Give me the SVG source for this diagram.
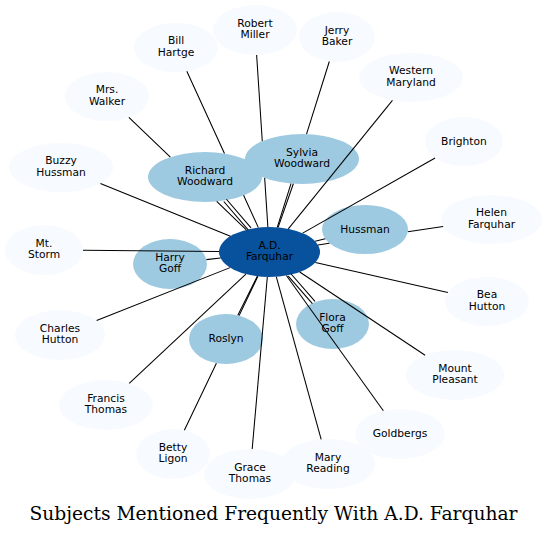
<svg xmlns="http://www.w3.org/2000/svg" width="547" height="535" viewBox="0 0 547 535">
<style>
.lt{fill:#f7fbff}
.md{fill:#9ecae1}
.dk{fill:#08519c}
text{font-family:"DejaVu Sans","Liberation Sans",sans-serif;font-size:10.7px;fill:#000;text-anchor:middle}
.e{stroke:#000;stroke-width:1.05;fill:none}
.title{font-family:"DejaVu Serif","Liberation Serif",serif;font-size:18px}
</style>
<rect width="547" height="535" fill="#fff"/>
<g id="nodes">
<g id="n-bill-hartge"><ellipse class="lt" cx="176" cy="47.5" rx="42" ry="24.5"/><text x="176" y="44.2">Bill</text><text x="176" y="55.9">Hartge</text></g>
<g id="n-robert-miller"><ellipse class="lt" cx="255" cy="30" rx="42" ry="25"/><text x="255" y="26.7">Robert</text><text x="255" y="38.4">Miller</text></g>
<g id="n-jerry-baker"><ellipse class="lt" cx="337" cy="37" rx="38" ry="25"/><text x="337" y="33.7">Jerry</text><text x="337" y="45.4">Baker</text></g>
<g id="n-western-maryland"><ellipse class="lt" cx="411" cy="77.5" rx="52" ry="24.5"/><text x="411" y="74.2">Western</text><text x="411" y="85.9">Maryland</text></g>
<g id="n-brighton"><ellipse class="lt" cx="464" cy="141.5" rx="39" ry="24.5"/><text x="464" y="144.5">Brighton</text></g>
<g id="n-helen-farquhar"><ellipse class="lt" cx="491.5" cy="219.5" rx="50.5" ry="24.5"/><text x="491.5" y="216.2">Helen</text><text x="491.5" y="227.9">Farquhar</text></g>
<g id="n-bea-hutton"><ellipse class="lt" cx="487" cy="301.5" rx="42" ry="24.5"/><text x="487" y="298.2">Bea</text><text x="487" y="309.9">Hutton</text></g>
<g id="n-mount-pleasant"><ellipse class="lt" cx="455" cy="375" rx="49" ry="25"/><text x="455" y="371.7">Mount</text><text x="455" y="383.4">Pleasant</text></g>
<g id="n-goldbergs"><ellipse class="lt" cx="400" cy="434" rx="45" ry="25"/><text x="400" y="437">Goldbergs</text></g>
<g id="n-grace-thomas"><ellipse class="lt" cx="250" cy="474" rx="46" ry="25"/><text x="250" y="470.7">Grace</text><text x="250" y="482.4">Thomas</text></g>
<g id="n-mary-reading"><ellipse class="lt" cx="328" cy="464" rx="47" ry="25"/><text x="328" y="460.7">Mary</text><text x="328" y="472.4">Reading</text></g>
<g id="n-betty-ligon"><ellipse class="lt" cx="173" cy="454" rx="37" ry="25"/><text x="173" y="450.7">Betty</text><text x="173" y="462.4">Ligon</text></g>
<g id="n-francis-thomas"><ellipse class="lt" cx="106" cy="405" rx="47" ry="25"/><text x="106" y="401.7">Francis</text><text x="106" y="413.4">Thomas</text></g>
<g id="n-charles-hutton"><ellipse class="lt" cx="60" cy="335" rx="45" ry="25"/><text x="60" y="331.7">Charles</text><text x="60" y="343.4">Hutton</text></g>
<g id="n-mt-storm"><ellipse class="lt" cx="44" cy="250" rx="39" ry="25"/><text x="44" y="246.7">Mt.</text><text x="44" y="258.4">Storm</text></g>
<g id="n-buzzy-hussman"><ellipse class="lt" cx="61" cy="167.5" rx="52" ry="24.5"/><text x="61" y="164.2">Buzzy</text><text x="61" y="175.9">Hussman</text></g>
<g id="n-mrs-walker"><ellipse class="lt" cx="107" cy="96.5" rx="42" ry="24.5"/><text x="107" y="93.2">Mrs.</text><text x="107" y="104.9">Walker</text></g>
<g id="n-richard-woodward"><ellipse class="md" cx="205" cy="177" rx="57" ry="25"/><text x="205" y="173.7">Richard</text><text x="205" y="185.4">Woodward</text></g>
<g id="n-sylvia-woodward"><ellipse class="md" cx="302" cy="159" rx="57" ry="25"/><text x="302" y="155.7">Sylvia</text><text x="302" y="167.4">Woodward</text></g>
<g id="n-hussman"><ellipse class="md" cx="365" cy="229.5" rx="43" ry="24.5"/><text x="365" y="232.5">Hussman</text></g>
<g id="n-harry-goff"><ellipse class="md" cx="170" cy="264" rx="37" ry="25"/><text x="170" y="260.7">Harry</text><text x="170" y="272.4">Goff</text></g>
<g id="n-roslyn"><ellipse class="md" cx="226" cy="339" rx="37" ry="25"/><text x="226" y="342">Roslyn</text></g>
<g id="n-flora-goff"><ellipse class="md" cx="332.5" cy="324" rx="36.5" ry="25"/><text x="332.5" y="320.7">Flora</text><text x="332.5" y="332.4">Goff</text></g>
<g id="n-ad-farquhar"><ellipse class="dk" cx="269.5" cy="252" rx="50.5" ry="25"/><text x="269.5" y="248.7">A.D.</text><text x="269.5" y="260.4">Farquhar</text></g>
</g>
<g id="connectors">
<path class="e" d="M186.82,71.17L224.48,153.54M243.59,195.34L258.35,227.62"/>
<path class="e" d="M256.63,54.98L262.26,141.08M264.66,177.9L267.87,227.01"/>
<path class="e" d="M329.31,61.48L306.52,134.08M291,183.54L277.26,227.3"/>
<path class="e" d="M392.44,100.39L288.31,228.8"/>
<path class="e" d="M435.07,157.93L302.68,233.15"/>
<path class="e" d="M325.26,238.86L315.1,241.26"/>
<path class="e" d="M443.15,226.58L407.81,231.75M329.4,243.23L317.93,244.91"/>
<path class="e" d="M447.87,292.6L315.38,262.44"/>
<path class="e" d="M425.12,355.19L299.71,272.03"/>
<path class="e" d="M383.35,410.77L286.39,275.56"/>
<path class="e" d="M312.38,303.65L288.28,276.05M315.02,301.35L290.92,273.75"/>
<path class="e" d="M321.17,439.27L276.33,276.77"/>
<path class="e" d="M252.19,449.03L267.31,276.98"/>
<path class="e" d="M237.84,315.31L257.37,276.27"/>
<path class="e" d="M184.37,430.21L216.41,363.15M239.11,315.61L257.88,276.33"/>
<path class="e" d="M129.23,383.26L245.89,274.1"/>
<path class="e" d="M96.64,320.48L230.07,267.62"/>
<path class="e" d="M206.42,259.61L220.44,257.92"/>
<path class="e" d="M82.99,250.35L219.01,251.55"/>
<path class="e" d="M100.42,183.48L230.43,236.16"/>
<path class="e" d="M128.86,117.42L170.37,157.14M216.7,201.47L246.29,229.79"/>
<path class="e" d="M223.79,201.53L248.39,230.14M226.45,199.25L251.05,227.86"/>
<path class="e" d="M293.36,183.71L278.11,227.37"/>
</g>
<text class="title" x="273.5" y="520" textLength="488" lengthAdjust="spacingAndGlyphs">Subjects Mentioned Frequently With A.D. Farquhar</text>
</svg>
